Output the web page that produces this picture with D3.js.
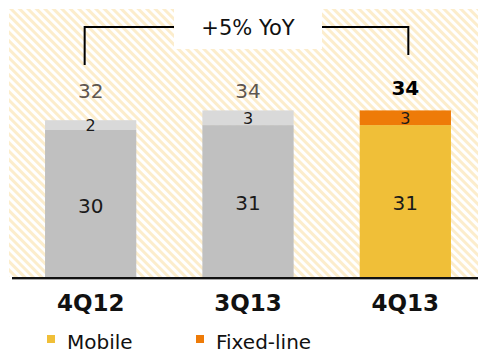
<!DOCTYPE html>
<html>
<head>
<meta charset="utf-8">
<script src="https://cdn.jsdelivr.net/npm/d3@7/dist/d3.min.js"></script>
<style>
  html, body { margin: 0; padding: 0; background: #fff; }
  svg { display: block; font-family: "DejaVu Sans", Verdana, sans-serif; }
</style>
</head>
<body>
<svg id="chart" width="478" height="354"></svg>
<script>
// Revenue by quarter, split into mobile and fixed-line
const quarters = ["4Q12", "3Q13", "4Q13"];
const mobile = [30, 31, 31];
const fixedLine = [2, 3, 3];
const totals = [32, 34, 34];
const growthLabel = "+5% YoY";
const legendLabels = ["Mobile", "Fixed-line"];

const W = 478, H = 354;
const baseY = 277;
const svg = d3.select("#chart");

// diagonal stripe background
const defs = svg.append("defs");
const pat = defs.append("pattern")
  .attr("id", "stripes")
  .attr("patternUnits", "userSpaceOnUse")
  .attr("width", 6).attr("height", 6)
  .attr("patternTransform", "rotate(-45)");
pat.append("rect").attr("width", 6).attr("height", 6).attr("fill", "#ffffff");
pat.append("rect").attr("width", 3).attr("height", 6).attr("fill", "#fcedcc");

svg.append("rect")
  .attr("x", 9).attr("y", 9)
  .attr("width", W - 9).attr("height", baseY - 9)
  .attr("fill", "url(#stripes)");

const x = d3.scaleBand()
  .domain(quarters)
  .range([12, 484])
  .paddingInner(0.42)
  .paddingOuter(0.21);

const y = d3.scaleLinear()
  .domain([0, 34])
  .range([baseY, baseY - 34 * 4.9]);

const rows = quarters.map((q, i) => ({
  q, i, mobile: mobile[i], fixed: fixedLine[i], total: totals[i],
  current: i === quarters.length - 1
}));

const g = svg.append("g");

// lower segment
g.selectAll("rect.low").data(rows).enter().append("rect")
  .attr("class", "low")
  .attr("x", d => x(d.q))
  .attr("width", x.bandwidth())
  .attr("y", d => y(d.mobile))
  .attr("height", d => y(0) - y(d.mobile))
  .attr("fill", d => d.current ? "#f0bf38" : "#c0c0c0");

// upper segment
g.selectAll("rect.high").data(rows).enter().append("rect")
  .attr("class", "high")
  .attr("x", d => x(d.q))
  .attr("width", x.bandwidth())
  .attr("y", d => y(d.mobile + d.fixed))
  .attr("height", d => y(d.mobile) - y(d.mobile + d.fixed))
  .attr("fill", d => d.current ? "#ee7b08" : "#d9d9d9");

// segment labels
g.selectAll("text.lowv").data(rows).enter().append("text")
  .attr("x", d => x(d.q) + x.bandwidth() / 2)
  .attr("y", d => (y(0) + y(d.mobile)) / 2 + 9)
  .attr("text-anchor", "middle")
  .attr("font-size", 20)
  .attr("fill", "#1a1a1a")
  .text(d => d.mobile);

g.selectAll("text.highv").data(rows).enter().append("text")
  .attr("x", d => x(d.q) + x.bandwidth() / 2)
  .attr("y", d => (y(d.mobile) + y(d.mobile + d.fixed)) / 2 + 6)
  .attr("text-anchor", "middle")
  .attr("font-size", 16)
  .attr("fill", "#1a1a1a")
  .text(d => d.fixed);

// totals above the bars
g.selectAll("text.total").data(rows).enter().append("text")
  .attr("x", d => x(d.q) + x.bandwidth() / 2)
  .attr("y", d => d.current ? 95 : 98)
  .attr("text-anchor", "middle")
  .attr("font-size", 20)
  .attr("font-weight", d => d.current ? "bold" : "normal")
  .attr("fill", d => d.current ? "#000" : "#5e5650")
  .text(d => d.total);

// baseline
svg.append("line")
  .attr("x1", 12).attr("x2", W)
  .attr("y1", baseY + 1).attr("y2", baseY + 1)
  .attr("stroke", "#111").attr("stroke-width", 2);
svg.append("line")
  .attr("x1", 12).attr("x2", W)
  .attr("y1", baseY + 2.5).attr("y2", baseY + 2.5)
  .attr("stroke", "#aaa").attr("stroke-width", 1);

// category axis labels
const xAxis = svg.append("g")
  .attr("transform", `translate(0,${baseY})`)
  .call(d3.axisBottom(x).tickSize(0).tickPadding(0));
xAxis.select(".domain").remove();
xAxis.selectAll("text")
  .attr("dy", null)
  .attr("y", 34)
  .attr("font-family", "DejaVu Sans, Verdana, sans-serif")
  .attr("font-size", 23)
  .attr("font-weight", "bold")
  .attr("fill", "#111");

// growth bracket
const cx0 = x(quarters[0]) + x.bandwidth() / 2;
const cx2 = x(quarters[2]) + x.bandwidth() / 2;
const bracketY = 27;
const boxX0 = 174, boxX1 = 322;
svg.append("path")
  .attr("d", `M${cx0 - 6},65 V${bracketY} H${boxX0}`)
  .attr("fill", "none").attr("stroke", "#000").attr("stroke-width", 2);
svg.append("path")
  .attr("d", `M${boxX1},${bracketY} H${cx2 + 3} V55`)
  .attr("fill", "none").attr("stroke", "#000").attr("stroke-width", 2);
svg.append("rect")
  .attr("x", boxX0).attr("y", 0)
  .attr("width", boxX1 - boxX0).attr("height", 49)
  .attr("fill", "#fff");
svg.append("text")
  .attr("x", (boxX0 + boxX1) / 2)
  .attr("y", 35)
  .attr("text-anchor", "middle")
  .attr("font-size", 21)
  .attr("fill", "#111")
  .text(growthLabel);

// legend
const legendColors = ["#f0bf38", "#ee7b08"];
const legendX = [47, 196];
const lg = svg.append("g");
legendLabels.forEach((lbl, i) => {
  lg.append("rect")
    .attr("x", legendX[i]).attr("y", 335)
    .attr("width", 8).attr("height", 8)
    .attr("fill", legendColors[i]);
  lg.append("text")
    .attr("x", legendX[i] + 20)
    .attr("y", 349)
    .attr("font-size", 20)
    .attr("fill", "#111")
    .text(lbl);
});
</script>
</body>
</html>
